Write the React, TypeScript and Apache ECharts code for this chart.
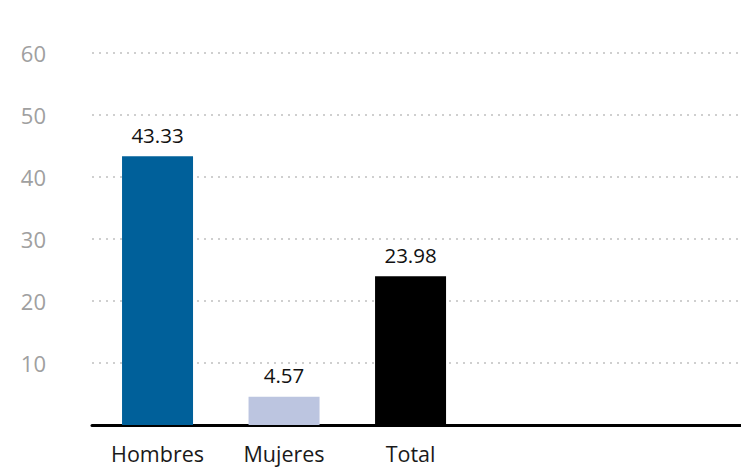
import React, { useEffect, useRef } from "react";
import * as echarts from "echarts";

const categories = ["Hombres", "Mujeres", "Total"];
const values = [43.33, 4.57, 23.98];
const barColors = ["#00609a", "#bcc5e0", "#000000"];
const yTicks = [10, 20, 30, 40, 50, 60];

export default function App() {
  const ref = useRef<HTMLDivElement>(null);
  useEffect(() => {
    if (!ref.current) return;
    const chart = echarts.init(ref.current, null, { renderer: "svg" });
    const font = "'Open Sans', 'Noto Sans', sans-serif";
    chart.setOption({
      animation: false,
      grid: { left: 92, right: 0, top: 53, bottom: 42 },
      xAxis: {
        type: "value",
        min: 0.482,
        max: 5.612,
        splitLine: { show: false },
        axisTick: { show: false },
        axisLine: { show: true, onZero: false, lineStyle: { color: "#000", width: 3 } },
        axisLabel: {
          customValues: categories.map((_, i) => i + 1),
          formatter: (v: number) => categories[Math.round(v) - 1] ?? "",
          color: "#1a1a1a",
          fontSize: 21.5,
          fontFamily: font,
          margin: 17,
        },
      },
      yAxis: {
        type: "value",
        min: 0,
        max: 60,
        interval: 10,
        axisLine: { show: false },
        axisTick: { show: false },
        axisLabel: {
          formatter: (v: number) => (yTicks.includes(v) ? String(v) : ""),
          color: "#a0a0a0",
          fontSize: 22,
          fontFamily: font,
          margin: 46,
        },
        splitLine: {
          show: true,
          lineStyle: { color: "#cfcfcf", width: 2, type: [2, 5] },
        },
      },
      series: [
        {
          type: "bar",
          barWidth: 71,
          data: values.map((v, i) => ({
            value: [i + 1, v],
            itemStyle: { color: barColors[i] },
          })),
          label: {
            show: true,
            position: "top",
            distance: 11,
            color: "#111",
            fontSize: 20.5,
            fontFamily: font,
            formatter: (p: any) => p.value[1].toFixed(2),
          },
        },
      ],
    });
    return () => chart.dispose();
  }, []);
  return <div ref={ref} style={{ width: 741, height: 467, position: "absolute", left: 0, top: 0 }} />;
}
